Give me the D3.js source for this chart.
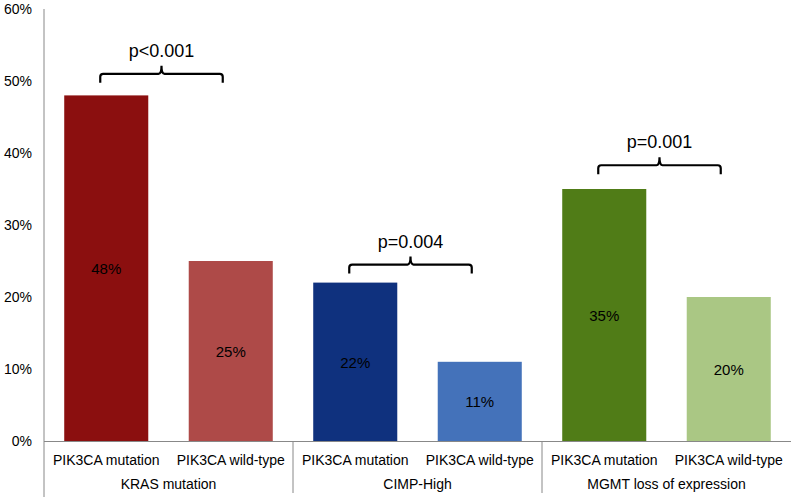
<!DOCTYPE html>
<html><head><meta charset="utf-8">
<script src="https://cdn.jsdelivr.net/npm/d3@7"></script>
<style>body{margin:0;background:#fff}svg{display:block;font-family:"Liberation Sans",Arial,sans-serif}</style>
</head><body><svg id="c" width="791" height="497"></svg>
<script>
const groups = ["KRAS mutation", "CIMP-High", "MGMT loss of expression"];
const subLabels = ["PIK3CA mutation", "PIK3CA wild-type"];
const values = [48, 25, 22, 11, 35, 20];
const colors = ["#8B0F0F", "#AE4A48", "#0F317E", "#4472BA", "#507C17", "#AAC784"];
const pLabels = ["p<0.001", "p=0.004", "p=0.001"];
const bracketLevels = [51, 24.5, 38.3];
const yTicks = [0, 10, 20, 30, 40, 50, 60];

const svg = d3.select("#c");
const mLeft = 44, mRight = 791, mTop = 9, mBottom = 441;
const bars = values.map((v, i) => ({v, i, g: Math.floor(i / 2), s: i % 2, key: "b" + i}));
const x = d3.scaleBand().domain(bars.map(d => d.key)).range([mLeft, mRight]).paddingInner(0.325).paddingOuter(0.1625);
const y = d3.scaleLinear().domain([0, 60]).range([mBottom, mTop]);

// y axis
const ya = svg.append("g").attr("transform", `translate(${mLeft},0)`)
  .call(d3.axisLeft(y).tickValues(yTicks).tickFormat(d => d + "%").tickSize(0).tickPadding(12));
ya.select(".domain").attr("stroke", "#888").attr("d", `M0,${mTop}V497`);
ya.selectAll("text").attr("font-size", 14).attr("fill", "#000").attr("font-family", "Liberation Sans, Arial, sans-serif");

// x axis line
svg.append("line").attr("x1", mLeft).attr("x2", mRight).attr("y1", mBottom + 0.5).attr("y2", mBottom + 0.5).attr("stroke", "#888");
// group separators
const gw = (mRight - mLeft) / 3;
[1, 2].forEach(k => svg.append("line").attr("x1", mLeft + gw * k).attr("x2", mLeft + gw * k)
  .attr("y1", mBottom).attr("y2", 493).attr("stroke", "#888"));

// bars
svg.selectAll("rect.bar").data(bars).join("rect").attr("class", "bar")
  .attr("x", d => x(d.key)).attr("width", x.bandwidth())
  .attr("y", d => y(d.v)).attr("height", d => y(0) - y(d.v)).attr("fill", d => colors[d.i]);

// value labels
svg.selectAll("text.val").data(bars).join("text").attr("class", "val")
  .attr("x", d => x(d.key) + x.bandwidth() / 2).attr("y", d => (y(d.v) + y(0)) / 2 + 6)
  .attr("text-anchor", "middle").attr("font-size", 15).attr("fill", "#000").text(d => d.v + "%");

// sub labels
svg.selectAll("text.sub").data(bars).join("text").attr("class", "sub")
  .attr("x", d => x(d.key) + x.bandwidth() / 2).attr("y", 465)
  .attr("text-anchor", "middle").attr("font-size", 14).text(d => subLabels[d.s]);

// group labels
svg.selectAll("text.grp").data(groups).join("text").attr("class", "grp")
  .attr("x", (d, k) => mLeft + gw * (k + 0.5)).attr("y", 489)
  .attr("text-anchor", "middle").attr("font-size", 14).text(d => d);

// brackets
groups.forEach((g, k) => {
  const c1 = x("b" + (2 * k)) + x.bandwidth() / 2 - 6;
  const c2 = x("b" + (2 * k + 1)) + x.bandwidth() / 2 - 8;
  const yt = y(bracketLevels[k]);
  const mid = (c1 + c2) / 2;
  const r = 3;
  const p = `M${c1},${yt + 9} V${yt + r} Q${c1},${yt} ${c1 + r},${yt} H${mid - r} Q${mid},${yt} ${mid},${yt - 8} Q${mid},${yt} ${mid + r},${yt} H${c2 - r} Q${c2},${yt} ${c2},${yt + r} V${yt + 9}`;
  svg.append("path").attr("d", p).attr("fill", "none").attr("stroke", "#000").attr("stroke-width", 2.2);
  svg.append("text").attr("x", mid).attr("y", yt - 17).attr("text-anchor", "middle")
    .attr("font-size", 18).text(pLabels[k]);
});
</script></body></html>
